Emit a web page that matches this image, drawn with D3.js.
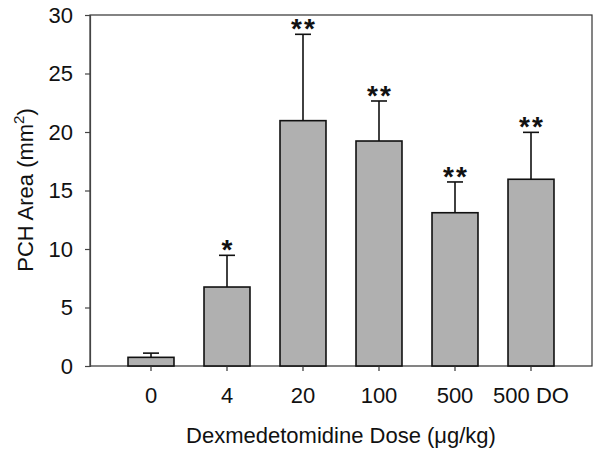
<!DOCTYPE html>
<html><head><meta charset="utf-8">
<script src="https://cdn.jsdelivr.net/npm/d3@7"></script>
<style>body{margin:0;background:#fff}svg{display:block}text{font-family:"Liberation Sans",Arial,sans-serif}</style>
</head><body>
<svg id="c" width="600" height="454"></svg>
<script>
const categories = ["0", "4", "20", "100", "500", "500 DO"];
const means = [0.74, 6.75, 20.97, 19.23, 13.1, 15.96];
const errTops = [1.1, 9.46, 28.35, 22.65, 15.73, 19.97];
const marks = ["", "*", "**", "**", "**", "**"];
const yTicks = [0, 5, 10, 15, 20, 25, 30];

const svg = d3.select("#c");
const L = 90, R = 592, T = 15, B = 366;
const y = d3.scaleLinear().domain([0, 30]).range([B, T]);
const x = d3.scaleBand().domain(categories).range([113, 569]).paddingInner(0.395).paddingOuter(0.1975);

// frame
svg.append("rect").attr("x", L).attr("y", T).attr("width", R - L).attr("height", B - T)
  .attr("fill", "none").attr("stroke", "#333").attr("stroke-width", 1.2);

// bars
svg.selectAll("rect.bar").data(categories).enter().append("rect").attr("class", "bar")
  .attr("x", d => x(d)).attr("width", x.bandwidth())
  .attr("y", (d, i) => y(means[i])).attr("height", (d, i) => B - y(means[i]))
  .attr("fill", "#b0b0b0").attr("stroke", "#111").attr("stroke-width", 1.6);

// error bars
const cx = d => x(d) + x.bandwidth() / 2;
svg.selectAll("line.err").data(categories).enter().append("line")
  .attr("x1", cx).attr("x2", cx).attr("y1", (d, i) => y(means[i])).attr("y2", (d, i) => y(errTops[i]))
  .attr("stroke", "#111").attr("stroke-width", 1.6);
svg.selectAll("line.cap").data(categories).enter().append("line")
  .attr("x1", d => cx(d) - 8).attr("x2", d => cx(d) + 8).attr("y1", (d, i) => y(errTops[i])).attr("y2", (d, i) => y(errTops[i]))
  .attr("stroke", "#111").attr("stroke-width", 1.6);

// significance marks
svg.selectAll("text.sig").data(categories).enter().append("text")
  .attr("x", d => cx(d) + 1).attr("y", (d, i) => y(errTops[i]) + 4)
  .attr("text-anchor", "middle").attr("font-size", 28).attr("font-weight", "bold")
  .attr("letter-spacing", 2).attr("fill", "#111")
  .text((d, i) => marks[i]);

// y axis
const ya = svg.append("g").attr("transform", `translate(${L},0)`)
  .call(d3.axisLeft(y).tickValues(yTicks).tickSize(5).tickPadding(12).tickFormat(d3.format("d")));
ya.select(".domain").attr("stroke", "#444").attr("stroke-width", 1.2);
ya.selectAll(".tick line").attr("stroke", "#444").attr("stroke-width", 1.2);
ya.selectAll(".tick text").attr("font-size", 22).attr("fill", "#111").attr("font-family", "Liberation Sans, Arial, sans-serif");

// x axis
const xa = svg.append("g").attr("transform", `translate(0,${B})`)
  .call(d3.axisBottom(x).tickSize(5).tickPadding(16));
xa.select(".domain").remove();
xa.selectAll(".tick line").attr("stroke", "#333").attr("stroke-width", 1.2);
xa.selectAll(".tick text").attr("font-size", 22).attr("fill", "#111").attr("font-family", "Liberation Sans, Arial, sans-serif");

// axis titles
svg.append("text").attr("x", 341).attr("y", 443).attr("text-anchor", "middle")
  .attr("font-size", 22).attr("fill", "#111").text("Dexmedetomidine Dose (μg/kg)");
const yl = svg.append("text").attr("transform", "translate(33,190) rotate(-90)").attr("text-anchor", "middle")
  .attr("font-size", 22).attr("fill", "#111");
yl.append("tspan").text("PCH Area (mm");
yl.append("tspan").attr("font-size", 15).attr("dy", -9).text("2");
yl.append("tspan").attr("dy", 9).text(")");
</script>
</body></html>
